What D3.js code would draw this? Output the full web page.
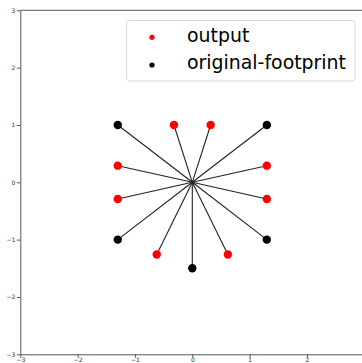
<!DOCTYPE html>
<html>
<head>
<meta charset="utf-8">
<script src="https://cdn.jsdelivr.net/npm/d3@7"></script>
<style>
  html, body { margin: 0; padding: 0; background: #fff; }
  svg { display: block; }
</style>
</head>
<body>
<svg id="chart" width="362" height="363"></svg>
<script>
// ---- data ----
const outputX = [-0.32, 0.32, 1.3, 1.3, 0.62, -0.62, -1.3, -1.3];
const outputY = [1.0, 1.0, 0.29, -0.29, -1.26, -1.26, -0.29, 0.29];
const footprintX = [-1.3, 1.3, 1.3, 0.0, -1.3];
const footprintY = [1.0, 1.0, -1.0, -1.5, -1.0];
const origin = [0, 0];
const xTickValues = [-3, -2, -1, 0, 1, 2];
const yTickValues = [-3, -2, -1, 0, 1, 2, 3];
const legendLabels = ["output", "original-footprint"];
const seriesColors = ["#ff0000", "#000000"];

// ---- layout ----
const svg = d3.select("#chart");
const x = d3.scaleLinear().domain([-3, 3]).range([20.3, 364.3]);
const y = d3.scaleLinear().domain([-3, 3]).range([354.3, 10.3]);

const outPts = outputX.map((v, i) => ({ x: v, y: outputY[i], s: 0 }));
const fpPts = footprintX.map((v, i) => ({ x: v, y: footprintY[i], s: 1 }));
const allPts = outPts.concat(fpPts);

// rays from origin
svg.append("g").selectAll("line").data(allPts).join("line")
  .attr("x1", x(origin[0])).attr("y1", y(origin[1]))
  .attr("x2", d => x(d.x)).attr("y2", d => y(d.y))
  .attr("stroke", "#222").attr("stroke-width", 1.1);

// points
svg.append("g").selectAll("circle").data(outPts).join("circle")
  .attr("cx", d => x(d.x)).attr("cy", d => y(d.y)).attr("r", 4.2)
  .attr("fill", seriesColors[0]);
svg.append("g").selectAll("circle").data(fpPts).join("circle")
  .attr("cx", d => x(d.x)).attr("cy", d => y(d.y)).attr("r", 4.2)
  .attr("fill", seriesColors[1]);

// axes
const fmt = d => d < 0 ? "\u2212" + Math.abs(d) : String(d);
const xAxis = svg.append("g").attr("transform", `translate(0,${y(-3)})`)
  .call(d3.axisBottom(x).tickValues(xTickValues).tickFormat(fmt).tickSize(3.5).tickPadding(0).tickSizeOuter(0));
const yAxis = svg.append("g").attr("transform", `translate(${x(-3)},0)`)
  .call(d3.axisLeft(y).tickValues(yTickValues).tickFormat(fmt).tickSize(3.5).tickPadding(1.5).tickSizeOuter(0));
[xAxis, yAxis].forEach(g => {
  g.select(".domain").attr("stroke", "#555").attr("stroke-width", 1);
  g.selectAll(".tick line").attr("stroke", "#555");
  g.selectAll(".tick text").attr("fill", "#333")
    .style("font-family", "DejaVu Sans").style("font-size", "6px");
});
xAxis.selectAll(".tick text").attr("y", 3.4);
// top spine
svg.append("line")
  .attr("x1", x(-3)).attr("x2", x(3)).attr("y1", y(3)).attr("y2", y(3))
  .attr("stroke", "#555").attr("stroke-width", 1);

// legend
const lg = svg.append("g");
lg.append("rect")
  .attr("x", 126.5).attr("y", 20.5).attr("width", 228.5).attr("height", 60.5)
  .attr("rx", 3).attr("fill", "#fff").attr("fill-opacity", 0.8)
  .attr("stroke", "#d9d9d9").attr("stroke-width", 1);
const rowY = [37.3, 65];
legendLabels.forEach((lab, i) => {
  lg.append("circle").attr("cx", 152).attr("cy", rowY[i]).attr("r", 2.6)
    .attr("fill", seriesColors[i]);
  lg.append("text").attr("x", 187).attr("y", rowY[i] + 4.4)
    .attr("fill", "#000")
    .style("font-family", "DejaVu Sans").style("font-size", "18.9px")
    .text(lab);
});
</script>
</body>
</html>
